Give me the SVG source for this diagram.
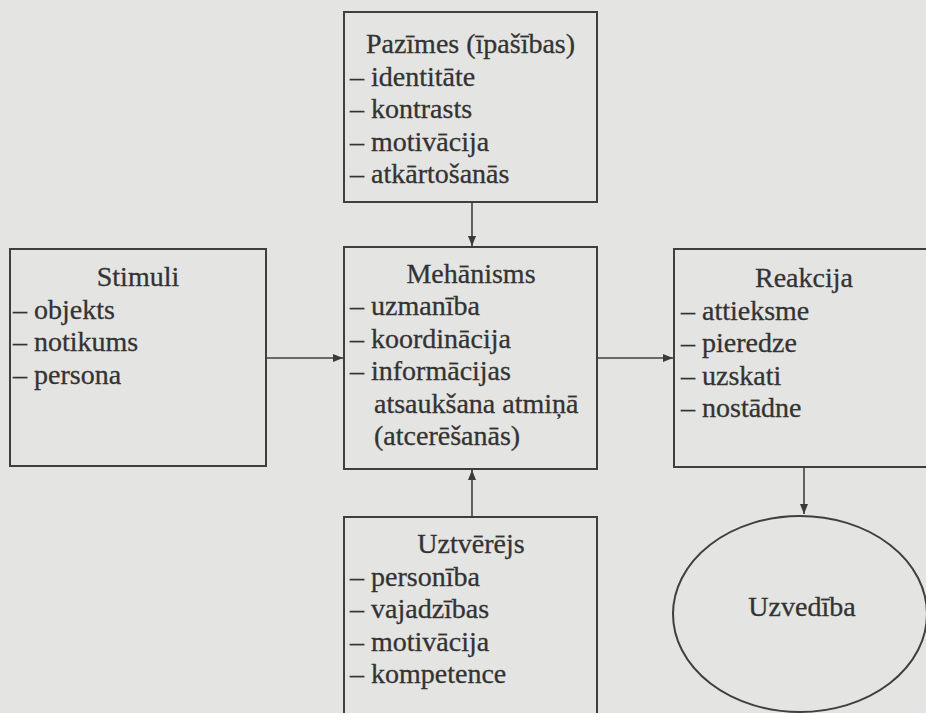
<svg xmlns="http://www.w3.org/2000/svg" width="926" height="713" viewBox="0 0 926 713">
  <defs>
    <marker id="arrow" viewBox="0 0 10 8" refX="10" refY="4" markerWidth="10" markerHeight="8" markerUnits="userSpaceOnUse" orient="auto">
      <path d="M0,0 L10,4 L0,8 Z" fill="#3a3a3a"/>
    </marker>
    <style>
      .box { fill: none; stroke: #3f3f3f; stroke-width: 2; }
      .edge { fill: none; stroke: #3f3f3f; stroke-width: 1.6; marker-end: url(#arrow); }
      text { font-family: 'Liberation Serif', 'Times New Roman', serif; font-size: 28px; fill: #333333; stroke: #333333; stroke-width: 0.3; }
      .title { text-anchor: middle; }
    </style>
  </defs>

  <rect width="926" height="713" fill="#e4e4e2"/>

  <!-- connectors -->
  <g id="connectors">
    <line class="edge" x1="472" y1="202" x2="472" y2="246"/>
    <line class="edge" x1="266" y1="358" x2="343" y2="358"/>
    <line class="edge" x1="597" y1="358" x2="673" y2="358"/>
    <line class="edge" x1="472" y1="517" x2="472" y2="470"/>
    <line class="edge" x1="804" y1="467" x2="804" y2="514"/>
  </g>

  <g id="pazimes">
    <rect class="box" x="344" y="12" width="253" height="190"/>
    <text class="title" x="470.5" y="53">Pazīmes (īpašības)</text>
    <text x="350" y="85.5">– identitāte</text>
    <text x="350" y="118">– kontrasts</text>
    <text x="350" y="150.5">– motivācija</text>
    <text x="350" y="183">– atkārtošanās</text>
  </g>

  <g id="stimuli">
    <rect class="box" x="10" y="249" width="256" height="217"/>
    <text class="title" x="138" y="286">Stimuli</text>
    <text x="13" y="318.5">– objekts</text>
    <text x="13" y="351">– notikums</text>
    <text x="13" y="383.5">– persona</text>
  </g>

  <g id="mehanisms">
    <rect class="box" x="344" y="247" width="253" height="222"/>
    <text class="title" x="471" y="283">Mehānisms</text>
    <text x="350" y="315">– uzmanība</text>
    <text x="350" y="347.5">– koordinācija</text>
    <text x="350" y="380">– informācijas</text>
    <text x="374" y="412.5">atsaukšana atmiņā</text>
    <text x="374" y="445">(atcerēšanās)</text>
  </g>

  <g id="reakcija">
    <rect class="box" x="674" y="249" width="260" height="218"/>
    <text class="title" x="804" y="287">Reakcija</text>
    <text x="681" y="319.5">– attieksme</text>
    <text x="681" y="352">– pieredze</text>
    <text x="681" y="384.5">– uzskati</text>
    <text x="681" y="417">– nostādne</text>
  </g>

  <g id="uztverejs">
    <rect class="box" x="344" y="517" width="253" height="210"/>
    <text class="title" x="471" y="553">Uztvērējs</text>
    <text x="350" y="585.5">– personība</text>
    <text x="350" y="618">– vajadzības</text>
    <text x="350" y="650.5">– motivācija</text>
    <text x="350" y="683">– kompetence</text>
  </g>

  <g id="uzvediba">
    <ellipse class="box" cx="800" cy="614" rx="127" ry="98"/>
    <text class="title" x="802" y="616">Uzvedība</text>
  </g>
</svg>
